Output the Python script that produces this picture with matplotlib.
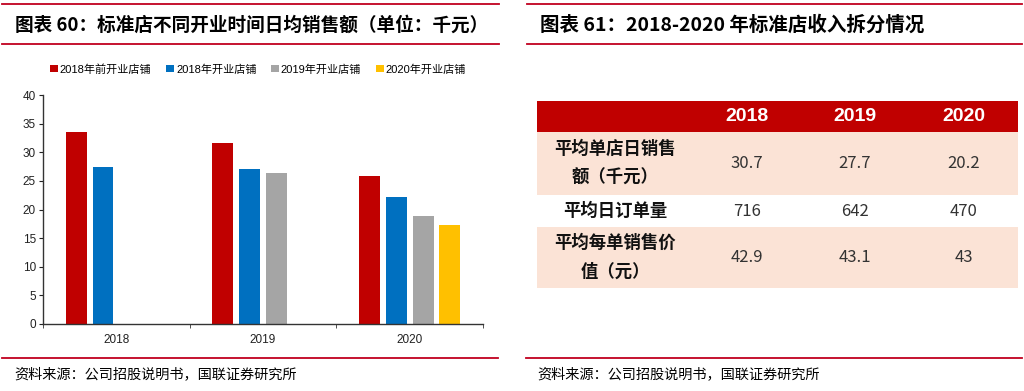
import matplotlib.pyplot as plt
from matplotlib.lines import Line2D
from matplotlib.patches import Rectangle
import numpy as np

plt.rcParams['font.family'] = ['Liberation Sans', 'Noto Sans CJK SC']

# left chart data
years = ['2018', '2019', '2020']
series_names = ['2018年前开业店铺', '2018年开业店铺', '2019年开业店铺', '2020年开业店铺']
pre2018 = [33.5, 31.7, 25.8]
open2018 = [27.5, 27.0, 22.1]
open2019 = [np.nan, 26.3, 18.8]
open2020 = [np.nan, np.nan, 17.3]
colors = ['#C00000', '#0070C0', '#A5A5A5', '#FFC000']

# right table data
table_cols = ['2018', '2019', '2020']
row_labels = ['平均单店日销售\n额（千元）', '平均日订单量', '平均每单销售价\n值（元）']
row_values = [['30.7', '27.7', '20.2'],
              ['716', '642', '470'],
              ['42.9', '43.1', '43']]

W, H = 1024, 391
fig = plt.figure(figsize=(W / 100, H / 100), dpi=100)

def px(x, y):
    return x / W, 1 - y / H

red = '#C0001F'
# title/footer rules
for (x0, x1) in [(2, 499), (527, 1022)]:
    for y in (4, 44, 358):
        if y == 358:
            a, b = (2, 498) if x0 == 2 else (526, 1022)
        else:
            a, b = x0, x1
        fig.add_artist(Line2D([a / W, b / W], [1 - y / H] * 2, color=red, lw=1.3))

fig.text(*px(15, 25), '图表 60：标准店不同开业时间日均销售额（单位：千元）', fontsize=13.4,
         fontweight='bold', va='center', ha='left', family=['Noto Sans CJK SC'])
fig.text(*px(540, 25), '图表 61：2018-2020 年标准店收入拆分情况', fontsize=14,
         fontweight='bold', va='center', ha='left', family=['Noto Sans CJK SC'])
for x in (14, 537):
    fig.text(*px(x, 374), '资料来源：公司招股说明书，国联证券研究所', fontsize=10.2,
             va='center', ha='left', family=['Noto Sans CJK SC'])

# bar chart
ax = fig.add_axes([43 / W, 1 - 324 / H, (483 - 43) / W, (324 - 95) / H])
x = np.arange(len(years))
step = 0.182
width = 0.143
for i, vals in enumerate([pre2018, open2018, open2019, open2020]):
    ax.bar(x + (i - 1.5) * step, vals, width, color=colors[i], label=series_names[i])
ax.set_xlim(-0.5, 2.5)
ax.set_ylim(0, 40)
ax.set_yticks(range(0, 41, 5))
ax.set_xticks(x)
ax.set_xticklabels(years)
ax.set_xticks([-0.5, 0.5, 1.5, 2.5], minor=True)
ax.tick_params(axis='x', which='major', length=0, labelsize=8.5, pad=7, colors='#222222')
ax.tick_params(axis='x', which='minor', length=3, direction='out', color='#333333')
ax.tick_params(axis='y', length=3, direction='out', labelsize=8.5, pad=2, colors='#222222')
for s in ('top', 'right'):
    ax.spines[s].set_visible(False)
for s in ('left', 'bottom'):
    ax.spines[s].set_color('#333333')
    ax.spines[s].set_linewidth(1.0)
fig.legend(*ax.get_legend_handles_labels(), loc='center', bbox_to_anchor=px(258, 69),
           ncol=4, frameon=False, fontsize=8, handlelength=0.7, handleheight=0.7,
           handletextpad=0.2, columnspacing=1.3, borderpad=0)

# table
tx0, tx1, ty0, ty1 = 537, 1018, 101, 288
tax = fig.add_axes([tx0 / W, 1 - ty1 / H, (tx1 - tx0) / W, (ty1 - ty0) / H])
col_w = [156, 108, 108, 109]
row_h = [31, 63, 32, 61]
tax.set_xlim(0, sum(col_w))
tax.set_ylim(sum(row_h), 0)
tax.axis('off')
edges_x = np.concatenate([[0], np.cumsum(col_w)])
edges_y = np.concatenate([[0], np.cumsum(row_h)])
fills = ['#C00000', '#FBE3D6', '#FFFFFF', '#FBE3D6']
for r in range(4):
    tax.add_patch(Rectangle((0, edges_y[r]), sum(col_w), row_h[r], color=fills[r], lw=0))
for c, name in enumerate(table_cols):
    tax.text((edges_x[c + 1] + edges_x[c + 2]) / 2, row_h[0] / 2, name, color='white',
             fontsize=14, fontweight='bold', ha='center', va='center', family=['Liberation Sans'])
for r, lab in enumerate(row_labels):
    yc = (edges_y[r + 1] + edges_y[r + 2]) / 2
    tax.text(edges_x[1] / 2, yc, lab, fontsize=12.5, fontweight='bold', ha='center',
             va='center', linespacing=1.75, family=['Noto Sans CJK SC'], color='#111111')
    for c, v in enumerate(row_values[r]):
        tax.text((edges_x[c + 1] + edges_x[c + 2]) / 2, yc, v, fontsize=12, ha='center',
                 va='center', color='#333333', family=['Noto Sans CJK SC'])

fig.savefig('out.png', dpi=100)
